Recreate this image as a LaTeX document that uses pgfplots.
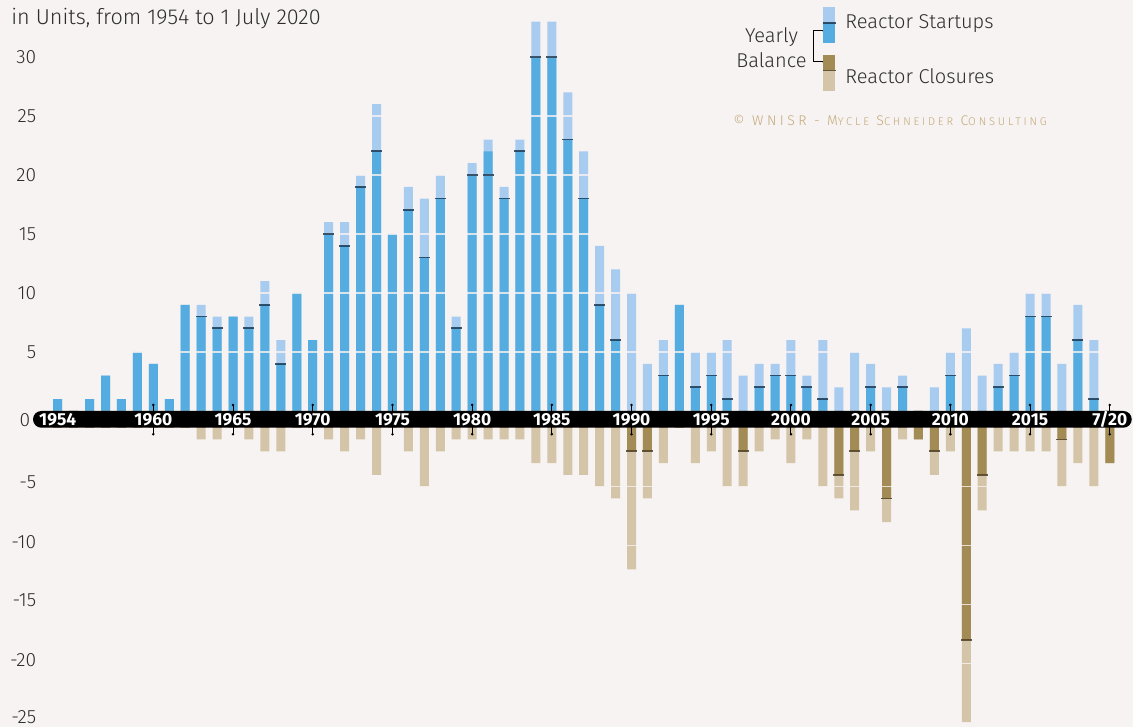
\documentclass[border=0pt]{standalone}
\usepackage{fontspec}
\IfFontExistsTF{Fira Sans Light}{\setmainfont{Fira Sans Light}}{\setmainfont{Fira Sans}}
\newfontfamily\bandfont{Fira Sans}
\IfFontExistsTF{Fira Sans Light}{\newfontfamily\spacedfont{Fira Sans Light}[LetterSpace=25]}{\newfontfamily\spacedfont{Fira Sans}[LetterSpace=25]}
\usepackage{pgfplots}
\pgfplotsset{compat=1.18}
\usepackage{pgfplotstable}

\definecolor{bg}{RGB}{247,243,242}
\definecolor{lblue}{RGB}{168,204,239}
\definecolor{dblue}{RGB}{85,172,224}
\definecolor{ltan}{RGB}{212,196,168}
\definecolor{dtan}{RGB}{163,139,85}
\definecolor{nblue}{RGB}{28,58,84}
\definecolor{ntan}{RGB}{80,66,38}
\definecolor{copyc}{RGB}{194,170,122}
\definecolor{txt}{RGB}{45,45,45}

% year, startups S, closures C, yearly balance N
\pgfplotstableread{
year S C N
1954 1 0 1
1955 0 0 0
1956 1 0 1
1957 3 0 3
1958 1 0 1
1959 5 0 5
1960 4 0 4
1961 1 0 1
1962 9 0 9
1963 9 1 8
1964 8 1 7
1965 8 0 8
1966 8 1 7
1967 11 2 9
1968 6 2 4
1969 10 0 10
1970 6 0 6
1971 16 1 15
1972 16 2 14
1973 20 1 19
1974 26 4 22
1975 15 0 15
1976 19 2 17
1977 18 5 13
1978 20 2 18
1979 8 1 7
1980 21 1 20
1981 23 1 22
1982 19 1 18
1983 23 1 22
1984 33 3 30
1985 33 3 30
1986 27 4 23
1987 22 4 18
1988 14 5 9
1989 12 6 6
1990 10 12 -2
1991 4 6 -2
1992 6 3 3
1993 9 0 9
1994 5 3 2
1995 5 2 3
1996 6 5 1
1997 3 5 -2
1998 4 2 2
1999 4 1 3
2000 6 3 3
2001 3 1 2
2002 6 5 1
2003 2 6 -4
2004 5 7 -2
2005 4 2 2
2006 2 8 -6
2007 3 1 2
2008 0 1 -1
2009 2 4 -2
2010 5 2 3
2011 7 25 -18
2012 3 7 -4
2013 4 2 2
2014 5 2 3
2015 10 2 8
2016 10 2 8
2017 4 5 -1
2018 9 3 6
2019 6 5 1
2020 0 3 -3
}\data

% balance marker on the startup side
\pgfplotstableread{
year L
1963 8
1964 7
1966 7
1967 9
1968 4
1971 15
1972 14
1973 19
1974 22
1976 17
1977 13
1978 18
1979 7
1980 20
1981 20
1982 18
1983 22
1984 30
1985 30
1986 23
1987 18
1988 9
1989 6
1992 3
1994 2
1995 3
1996 1
1998 2
1999 3
2000 3
2001 2
2002 1
2005 2
2007 2
2010 3
2013 2
2014 3
2015 8
2016 8
2018 6
2019 1
}\linesS

% balance marker on the closure side (units below zero)
\pgfplotstableread{
year L
1990 2
1991 2
1997 2
2003 4
2004 2
2006 6
2009 2
2011 18
2012 4
2017 1
}\linesC

\newcommand{\fs}[1]{\fontsize{#1}{#1}\selectfont}
\newcommand{\smc}[1]{{\fontsize{5.6}{6}\selectfont #1}}

\begin{document}
\begin{tikzpicture}
\begin{axis}[
  at={(0,0)}, anchor=south west, scale only axis,
  x=7.97pt, y=5.9pt,
  xmin=1950.38, xmax=2021.46, ymin=-26.78, ymax=34.83,
  axis background/.style={fill=bg},
  axis line style={draw=none},
  major tick length=0pt, tick style={draw=none},
  xtick=\empty,
  ytick={5,10,15,20,25,30},
  yticklabels={5,10,15,20,25,30},
  extra y ticks={-6.415,-11.415,-16.415,-21.415,-26.415},
  extra y tick labels={-5,-10,-15,-20,\raisebox{1.6pt}{-25}},
  extra y tick style={yticklabel style={yshift=2pt}},
  ymajorgrids, grid style={bg, line width=0.6pt, opacity=0.8},
  axis on top,
  yticklabel style={font=\fs{9.6}, text=txt, anchor=east, inner sep=0pt, xshift=18.3pt},
  clip=false,
]
\addplot[ybar, bar width=4.5pt, bar shift=0pt, fill=lblue, draw=none] table[x=year, y=S] {\data};
\addplot[ybar, bar width=4.5pt, bar shift=0pt, fill=dblue, draw=none] table[x=year, y expr={max(\thisrow{N},0)}] {\data};
\addplot[ybar, bar width=4.5pt, bar shift=0pt, fill=ltan, draw=none] table[x=year, y expr={-\thisrow{C}-1.415}] {\data};
\addplot[ybar, bar width=4.5pt, bar shift=0pt, fill=dtan, draw=none] table[x=year, y expr={min(\thisrow{N},0)-1.415}] {\data};
\addplot[only marks, mark=-, mark size=2.75pt, mark options={draw=nblue, line width=0.9pt, opacity=0.85}] table[x=year, y=L] {\linesS};
\addplot[only marks, mark=-, mark size=2.75pt, mark options={draw=ntan, line width=0.9pt, opacity=0.85}] table[x=year, y expr={-\thisrow{L}-1.415}] {\linesC};
% black band
\fill[black, rounded corners=4.17pt] (axis cs:1952.45,0) rectangle (axis cs:2021.38,-1.415);
\pgfplotsinvokeforeach{1960,1965,...,2020}{
  \draw[black, line width=0.5pt] (axis cs:#1,0.51) -- (axis cs:#1,-1.97);
  \fill[black] (axis cs:#1,0.51) circle (0.7pt);
  \fill[black] (axis cs:#1,-1.97) circle (0.7pt);
}
\pgfplotsinvokeforeach{1960,1965,...,2015}{
  \node[text=white, font=\bandfont\bfseries\fs{8.7}, inner sep=0pt] at (axis cs:#1,-0.7075) {#1};
}
\node[text=white, font=\bandfont\bfseries\fs{8.7}, inner sep=0pt] at (axis cs:1954,-0.7075) {1954};
\node[text=white, font=\bandfont\bfseries\fs{8.7}, inner sep=0pt] at (axis cs:2020,-0.7075) {7/20};
\end{axis}
\begin{scope}[x=0.5pt, y=-0.5pt, yshift=363.5pt]
  \node[anchor=east, inner sep=0pt, text=txt, font=\fs{9.6}] at (30.5,420) {0};
  \node[anchor=west, inner sep=0pt, text=txt, font=\fs{10.8}] at (11,19) {in Units, from 1954 to 1 July 2020};
  \node[align=center, inner sep=0pt, text=txt, font=\fontsize{10}{12.5}\selectfont] at (771.5,47.5) {Yearly\\Balance};
  \draw[black, line width=0.5pt] (824,31) -- (813,31) -- (813,62) -- (824,62);
  \fill[black] (824,31) circle (0.8pt);
  \fill[black] (824,62) circle (0.8pt);
  \fill[lblue] (823,7) rectangle (835,23);
  \fill[dblue] (823,23) rectangle (835,43);
  \draw[nblue, line width=0.9pt, opacity=0.85] (822.5,23) -- (835.5,23);
  \fill[dtan] (823,55) rectangle (835,70.5);
  \fill[ltan] (823,70.5) rectangle (835,91);
  \draw[ntan, line width=0.9pt, opacity=0.85] (822.5,70.5) -- (835.5,70.5);
  \node[anchor=west, inner sep=0pt, text=txt, font=\fs{10}] at (845,24) {Reactor Startups};
  \node[anchor=west, inner sep=0pt, text=txt, font=\fs{10}] at (845,76) {Reactor Closures};
  \node[anchor=west, inner sep=0pt, text=copyc, font=\spacedfont\fs{7}] at (733,120) {© WNISR - M\smc{YCLE} S\smc{CHNEIDER} C\smc{ONSULTING}};
\end{scope}
\pgfresetboundingbox
\path[use as bounding box] (0,0) rectangle (566.5pt,363.5pt);
\end{tikzpicture}
\end{document}
